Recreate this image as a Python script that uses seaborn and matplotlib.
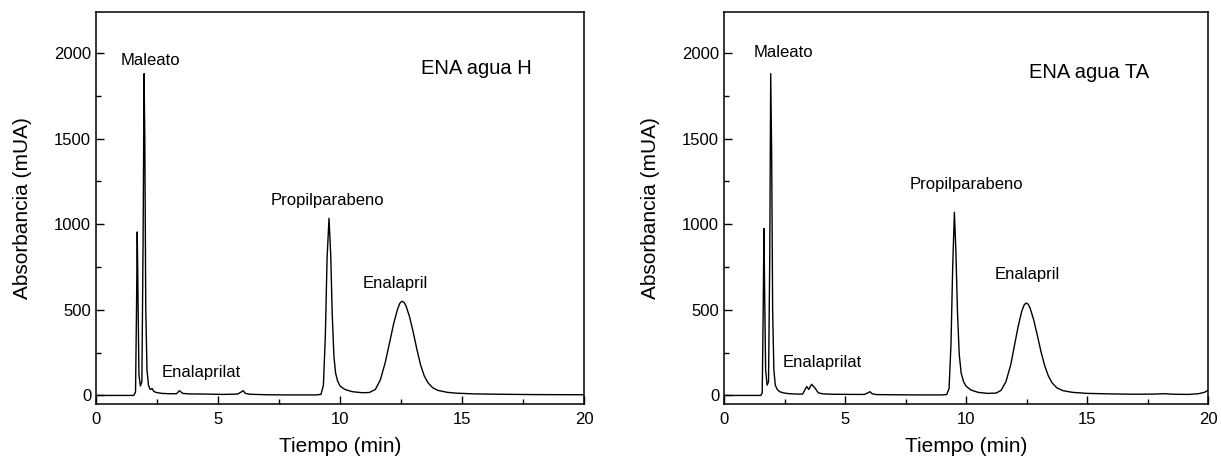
import matplotlib
matplotlib.use("Agg")
import matplotlib.pyplot as plt
import seaborn as sns
import pandas as pd
from matplotlib.ticker import MultipleLocator

# ---- data ----
time_h = [0, 1.55, 1.62, 1.66, 1.69, 1.72, 1.76, 1.82, 1.88, 1.93, 1.97, 2.00, 2.04, 2.09, 2.15,
          2.22, 2.30, 2.36, 2.45, 2.7, 3.0, 3.3, 3.42, 3.55, 3.8, 4.5, 5.2, 5.8, 5.95, 6.03,
          6.12, 6.3, 7.0, 8.0, 9.0, 9.22, 9.32, 9.40, 9.47, 9.55, 9.62, 9.68, 9.75, 9.82, 9.90,
          10.0, 10.2, 10.5, 10.9, 11.2, 11.45, 11.65, 11.85, 12.05, 12.2, 12.35, 12.45, 12.53,
          12.62, 12.7, 12.85, 13.0, 13.15, 13.3, 13.45, 13.6, 13.8, 14.0, 14.4, 14.8, 15.5,
          16.5, 18, 20]
abs_h = [0, 0, 20, 500, 955, 600, 120, 55, 80, 900, 1880, 1500, 500, 150, 60,
         35, 40, 25, 18, 12, 10, 10, 28, 12, 9, 8, 6, 8, 20, 28,
         12, 7, 4, 3, 3, 6, 60, 350, 800, 1035, 820, 480, 230, 130, 85,
         55, 35, 22, 16, 17, 35, 90, 190, 320, 420, 500, 538, 550,
         545, 525, 460, 370, 270, 180, 115, 75, 45, 30, 18, 13, 9,
         7, 5, 4]

time_ta = [0, 1.52, 1.58, 1.62, 1.65, 1.68, 1.72, 1.78, 1.84, 1.89, 1.93, 1.97, 2.01, 2.06,
           2.12, 2.2, 2.3, 2.45, 2.7, 3.0, 3.25, 3.35, 3.42, 3.5, 3.62, 3.75, 3.9, 4.1, 4.5,
           5.2, 5.8, 5.95, 6.03, 6.12, 6.3, 7, 8, 9.0, 9.2, 9.3, 9.38, 9.45, 9.52, 9.58, 9.65,
           9.72, 9.80, 9.9, 10.0, 10.2, 10.5, 10.9, 11.25, 11.45, 11.65, 11.85, 12.0, 12.15,
           12.3, 12.4, 12.48, 12.57, 12.65, 12.8, 12.95, 13.1, 13.25, 13.4, 13.55, 13.75, 14.0,
           14.4, 15, 16, 17, 17.8, 18.2, 18.6, 19.2, 19.6, 19.85, 20]
abs_ta = [0, 0, 15, 500, 975, 600, 150, 60, 80, 800, 1880, 1400, 500, 150,
          60, 35, 22, 15, 10, 8, 8, 35, 52, 35, 65, 45, 15, 9, 7,
          6, 6, 15, 22, 10, 5, 4, 3, 3, 5, 40, 300, 750, 1070, 850, 480,
          240, 130, 80, 55, 32, 18, 12, 14, 30, 80, 180, 290, 400,
          490, 528, 540, 533, 510, 440, 350, 255, 175, 115, 75, 45, 28,
          18, 12, 9, 7, 8, 10, 7, 6, 10, 18, 30]

peak_names = ["Maleato", "Enalaprilat", "Propilparabeno", "Enalapril"]
label_pos_h = [(2.25, 1955), (4.3, 135), (9.5, 1136), (12.25, 656)]
label_pos_ta = [(2.45, 2002), (4.05, 193), (10.0, 1230), (12.55, 708)]
sample_h = "ENA agua H"
sample_ta = "ENA agua TA"
sample_pos_h = (15.6, 1909)
sample_pos_ta = (15.1, 1885)

xlabel = "Tiempo (min)"
ylabel = "Absorbancia (mUA)"

sns.set_style("ticks")
plt.rcParams["font.family"] = ["Liberation Sans", "DejaVu Sans"]
plt.rcParams["text.color"] = "black"
plt.rcParams["axes.labelcolor"] = "black"

fig = plt.figure(figsize=(12.21, 4.61), dpi=100)
ax1 = fig.add_axes([96 / 1221, 1 - 404 / 461, (584 - 96) / 1221, (404 - 12) / 461])
ax2 = fig.add_axes([724 / 1221, 1 - 404 / 461, (1208 - 724) / 1221, (404 - 12) / 461])

panels = [
    (ax1, time_h, abs_h, label_pos_h, sample_h, sample_pos_h),
    (ax2, time_ta, abs_ta, label_pos_ta, sample_ta, sample_pos_ta),
]

for ax, t, a, lpos, sname, spos in panels:
    df = pd.DataFrame({"t": t, "a": a})
    sns.lineplot(data=df, x="t", y="a", ax=ax, color="black", lw=1.0,
                 estimator=None, sort=False)
    ax.set_xlim(0, 20)
    ax.set_ylim(-50, 2240)
    ax.xaxis.set_major_locator(MultipleLocator(5))
    ax.xaxis.set_minor_locator(MultipleLocator(2.5))
    ax.yaxis.set_major_locator(MultipleLocator(500))
    ax.yaxis.set_minor_locator(MultipleLocator(250))
    ax.tick_params(which="major", direction="in", length=6, width=1.0,
                   labelsize=12, colors="black", top=False, right=False)
    ax.tick_params(which="minor", direction="in", length=3.5, width=1.0,
                   colors="black", top=False, right=False)
    ax.tick_params(axis="x", pad=6)
    for sp in ax.spines.values():
        sp.set_visible(True)
        sp.set_linewidth(1.1)
        sp.set_color("black")
    ax.set_xlabel(xlabel, fontsize=15, labelpad=7, color="black")
    ax.set_ylabel(ylabel, fontsize=15, labelpad=16, color="black")
    for name, (x, y) in zip(peak_names, lpos):
        ax.text(x, y, name, ha="center", va="center", fontsize=12, color="black")
    ax.text(spos[0], spos[1], sname, ha="center", va="center", fontsize=14.5, color="black")

fig.savefig("out.png", dpi=100)
